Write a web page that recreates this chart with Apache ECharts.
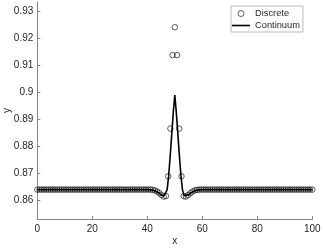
<!DOCTYPE html>
<html><head><meta charset="utf-8">
<script src="https://cdn.jsdelivr.net/npm/echarts@6/dist/echarts.min.js"></script>
<style>html,body{margin:0;padding:0;background:#fff}#c{width:324px;height:249px}</style>
</head><body><div id="c"></div>
<script>
var discreteX = [0,0.81,1.61,2.42,3.23,4.03,4.84,5.65,6.45,7.26,8.06,8.87,9.68,10.48,11.29,12.10,12.90,13.71,14.52,15.32,16.13,16.94,17.74,18.55,19.35,20.16,20.97,21.77,22.58,23.39,24.19,25.00,25.81,26.61,27.42,28.23,29.03,29.84,30.65,31.45,32.26,33.06,33.87,34.68,35.48,36.29,37.10,37.90,38.71,39.52,40.32,41.13,41.94,42.74,43.55,44.35,45.16,45.97,46.77,47.58,48.39,49.19,50.00,50.81,51.61,52.42,53.23,54.03,54.84,55.65,56.45,57.26,58.06,58.87,59.68,60.48,61.29,62.10,62.90,63.71,64.52,65.32,66.13,66.94,67.74,68.55,69.35,70.16,70.97,71.77,72.58,73.39,74.19,75.00,75.81,76.61,77.42,78.23,79.03,79.84,80.65,81.45,82.26,83.06,83.87,84.68,85.48,86.29,87.10,87.90,88.71,89.52,90.32,91.13,91.94,92.74,93.55,94.35,95.16,95.97,96.77,97.58,98.39,99.19,100.00];
var discreteY = [
0.8641,0.8641,0.8641,0.8641,0.8641,0.8641,0.8641,0.8641,0.8641,0.8641,
0.8641,0.8641,0.8641,0.8641,0.8641,0.8641,0.8641,0.8641,0.8641,0.8641,
0.8641,0.8641,0.8641,0.8641,0.8641,0.8641,0.8641,0.8641,0.8641,0.8641,
0.8641,0.8641,0.8641,0.8641,0.8641,0.8641,0.8641,0.8641,0.8641,0.8641,
0.8641,0.8641,0.8641,0.8641,0.8641,0.8641,0.8641,0.8641,0.8641,0.8641,
0.8641,0.8641,
0.8640,0.8638,0.8634,0.8628,0.8621,0.8615,0.8617,0.8690,0.8866,0.9137,
0.9240,
0.9137,0.8866,0.8690,0.8617,0.8615,0.8621,0.8628,0.8634,0.8638,0.8640,
0.8641,0.8641,0.8641,0.8641,0.8641,0.8641,0.8641,0.8641,0.8641,0.8641,
0.8641,0.8641,0.8641,0.8641,0.8641,0.8641,0.8641,0.8641,0.8641,0.8641,
0.8641,0.8641,0.8641,0.8641,0.8641,0.8641,0.8641,0.8641,0.8641,0.8641,
0.8641,0.8641,0.8641,0.8641,0.8641,0.8641,0.8641,0.8641,0.8641,0.8641,
0.8641,0.8641,0.8641,0.8641,0.8641,0.8641,0.8641,0.8641,0.8641,0.8641,
0.8641,0.8641];
var contX = [0,40,42,43,44,45,46,46.6,47.2,47.75,48.4,49.0,49.5,50,50.5,51.0,51.6,52.25,52.8,53.4,54,55,56,57,58,60,100];
var contY = [0.8641,0.8641,0.8639,0.8636,0.8630,0.8622,0.8617,0.8618,0.8640,0.8690,0.8775,0.8862,0.8932,0.8990,0.8932,0.8862,0.8775,0.8690,0.8640,0.8618,0.8617,0.8622,0.8630,0.8636,0.8639,0.8641,0.8641];
var xTicks = [0,20,40,60,80,100];
var yTicks = [0.86,0.87,0.88,0.89,0.9,0.91,0.92,0.93];
var seriesNames = ['Discrete','Continuum'];

var chart = echarts.init(document.getElementById('c'), null, {renderer:'canvas'});
var font = 'Liberation Sans, Arial, Helvetica, sans-serif';
var axisCol = '#858585', txtCol = '#262626';
chart.setOption({
  animation:false,
  textStyle:{fontFamily:font},
  grid:{left:37.3,right:11.7,top:2,bottom:30,containLabel:false,outerBoundsMode:'none'},
  xAxis:{type:'value',min:0,max:100,interval:20,
    name:'x',nameLocation:'middle',nameGap:17,nameMoveOverlap:false,nameTextStyle:{fontSize:10,color:txtCol,fontFamily:font},
    axisLine:{lineStyle:{color:axisCol,width:1}},
    axisTick:{inside:true,length:3,lineStyle:{color:axisCol},customValues:xTicks},
    axisLabel:{customValues:xTicks,fontSize:10,color:txtCol,margin:5,fontFamily:font},
    splitLine:{show:false}},
  yAxis:{type:'value',min:0.85325,max:0.9333,
    name:'y',nameLocation:'middle',nameGap:25,nameMoveOverlap:false,nameRotate:90,nameTextStyle:{fontSize:10,color:txtCol,fontFamily:font},
    axisLine:{show:true,lineStyle:{color:axisCol,width:1}},
    axisTick:{show:true,inside:true,length:3,lineStyle:{color:axisCol},customValues:yTicks},
    axisLabel:{customValues:yTicks,fontSize:10,color:txtCol,margin:4,fontFamily:font,
      formatter:function(v){return String(+(+v).toFixed(2));}},
    splitLine:{show:false}},
  legend:{left:231,top:6,orient:'vertical',itemWidth:18,itemHeight:6,itemGap:3,
    padding:[3,3,2,1],borderColor:'#a8a8a8',borderWidth:0.8,backgroundColor:'#fff',
    textStyle:{fontSize:9.3,color:txtCol,fontFamily:font},
    data:[
      {name:seriesNames[0],icon:'circle',itemStyle:{color:'transparent',borderColor:'#000',borderWidth:0.8}},
      {name:seriesNames[1],icon:'path://M0,0L18,0L18,1.6L0,1.6Z',itemStyle:{color:'#000',borderWidth:0}}
    ]},
  series:[
    {name:seriesNames[0],type:'scatter',symbol:'circle',symbolSize:5.5,
      itemStyle:{color:'transparent',borderColor:'#000',borderWidth:0.8},
      data:discreteX.map(function(x,i){return [x,discreteY[i]];}),z:3},
    {name:seriesNames[1],type:'line',symbol:'none',showSymbol:false,
      lineStyle:{color:'#000',width:1.6},itemStyle:{color:'#000'},
      data:contX.map(function(x,i){return [x,contY[i]];}),z:4}
  ]
});
</script></body></html>
